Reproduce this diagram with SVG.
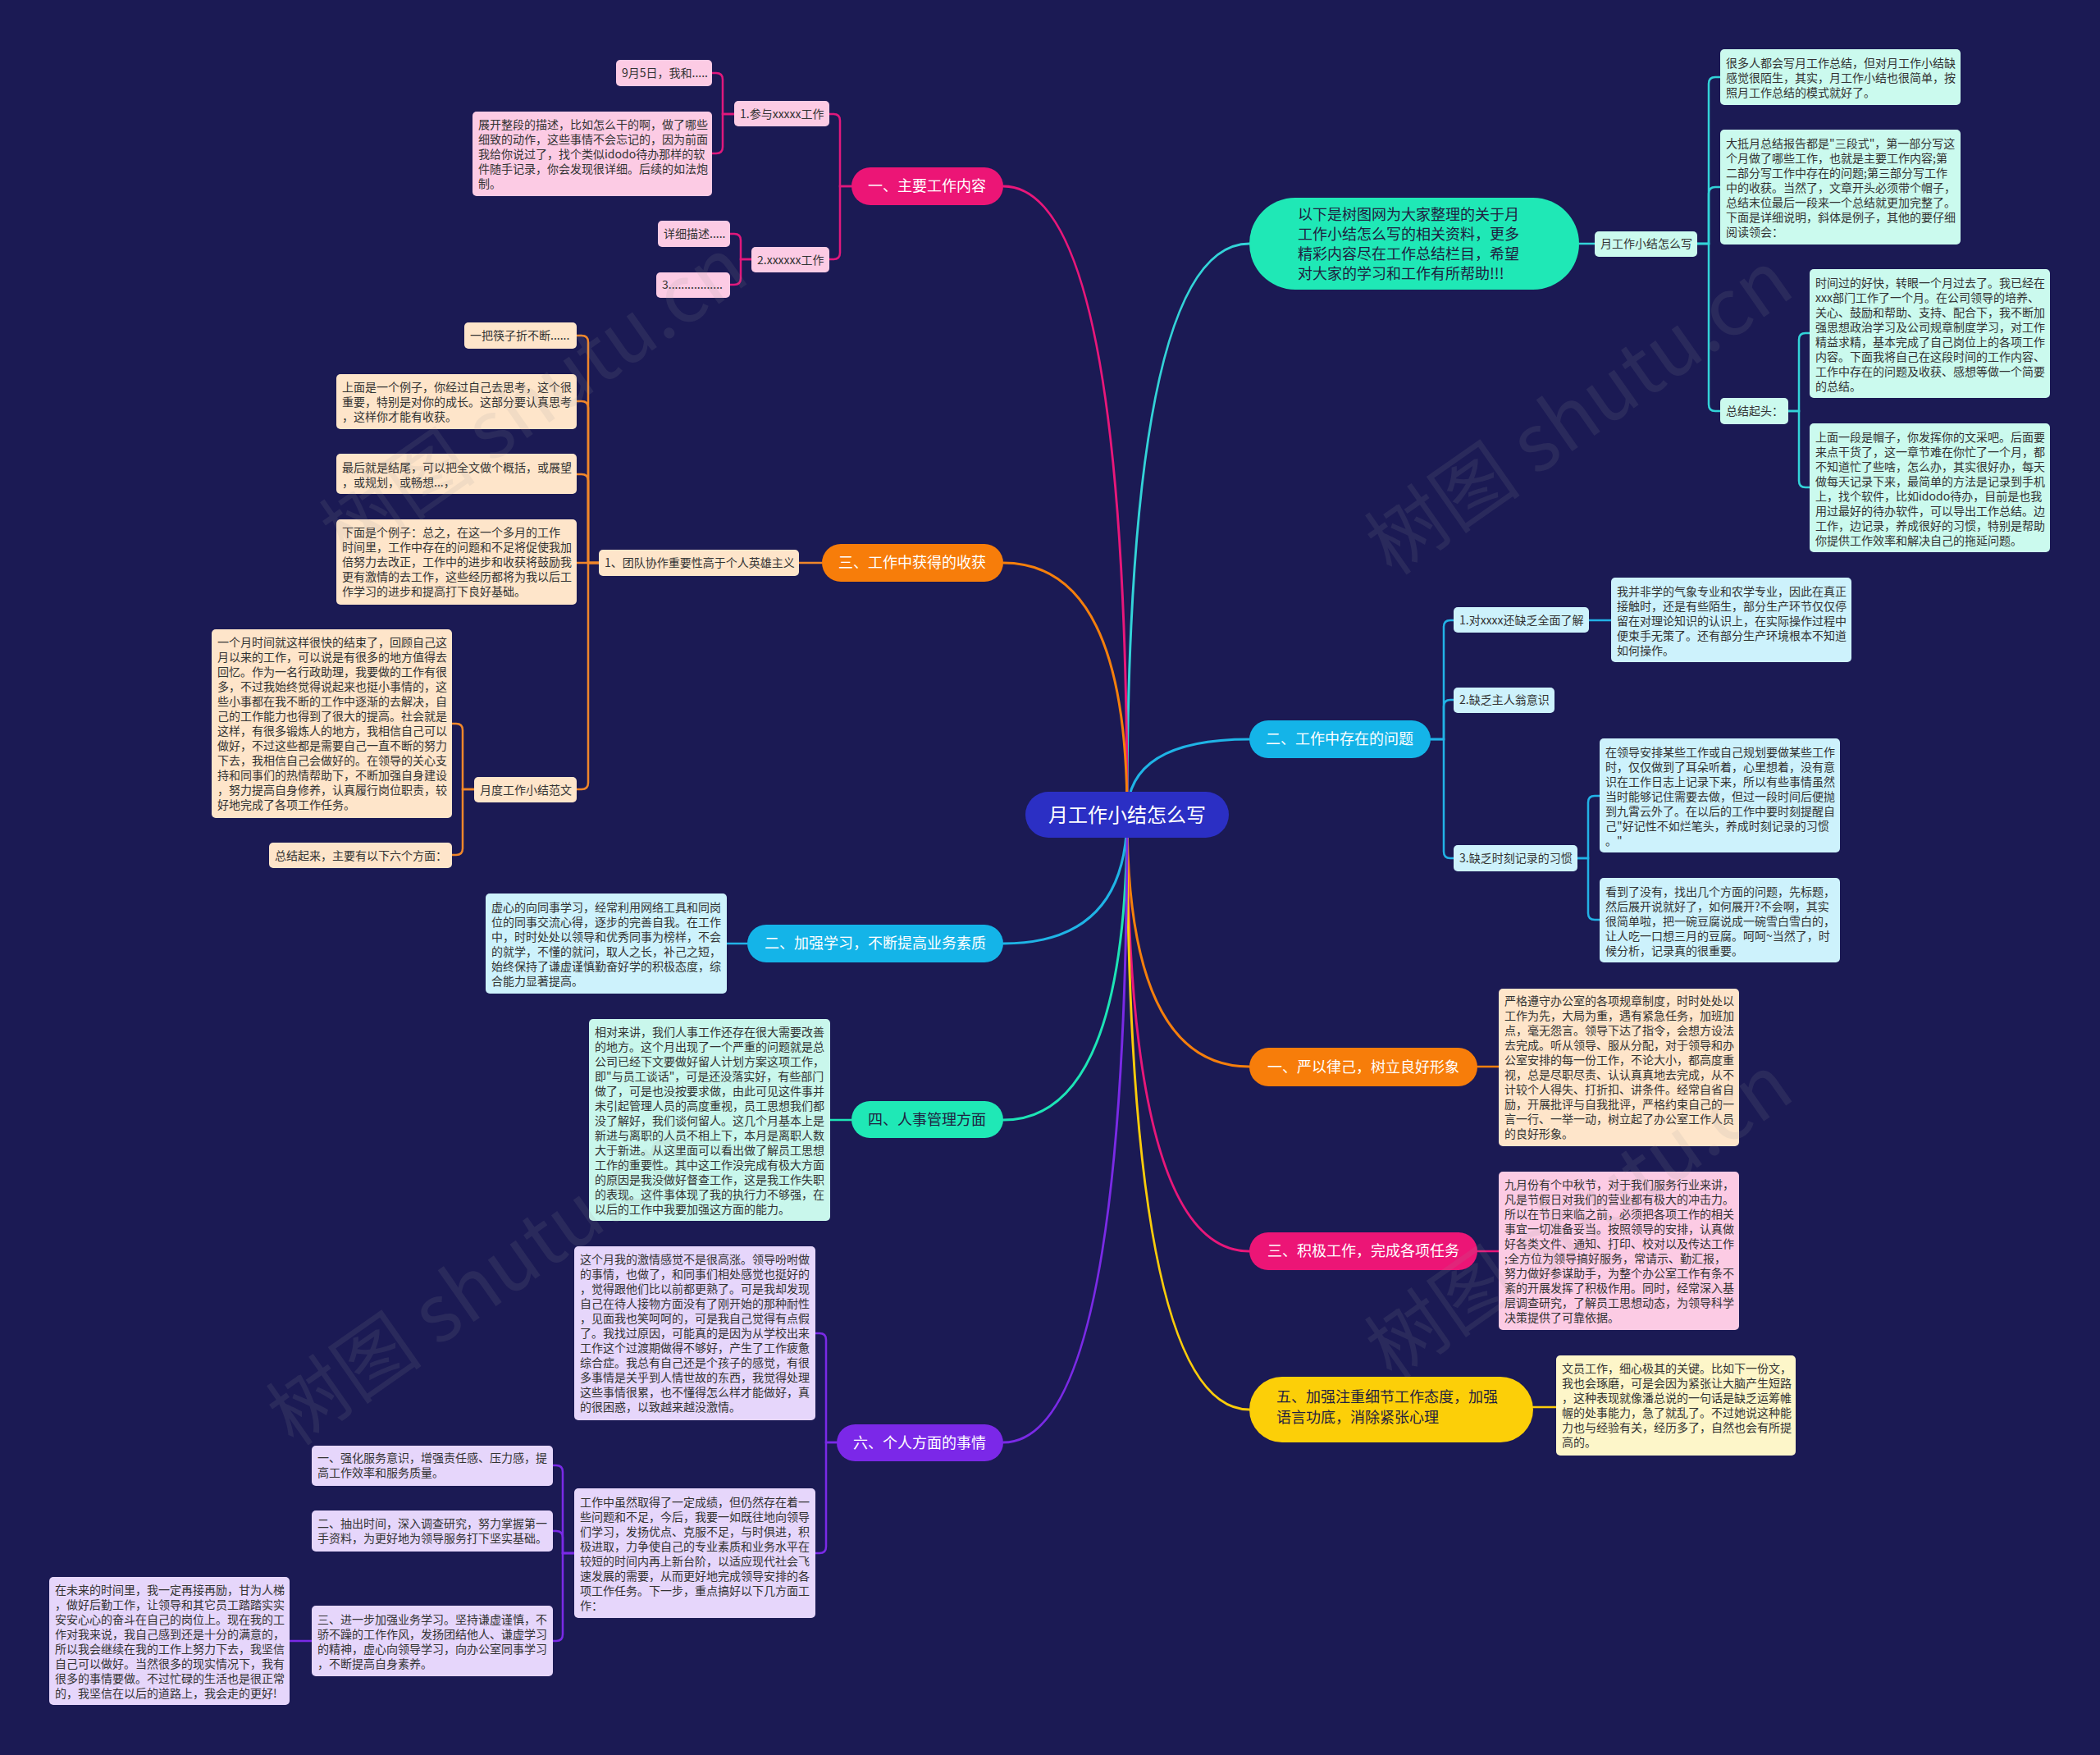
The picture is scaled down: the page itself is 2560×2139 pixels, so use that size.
<svg xmlns="http://www.w3.org/2000/svg" width="2560" height="2139" viewBox="0 0 2560 2139">
<style>
text{font-family:"Noto Sans CJK SC","Noto Sans",sans-serif}
.t{font-size:14px;fill:#333}
.m{font-size:18px}
.w{fill:#fff}
.d{fill:#1f2040}
.c path{fill:none;stroke-linecap:round}
.pk{fill:#fccbe4}.pc{fill:#fee5ca}.mt{fill:#cbfaee}.lb{fill:#cdf2fc}.lv{fill:#e6d6fb}.ly{fill:#fdf6c9}.mt2{fill:#c9f7ec}
.wm{font-size:96px;fill:#9a9a9a;opacity:0.12}
</style>
<rect width="2560" height="2139" fill="#1b1a54"/>
<g id="connectors" class="c">
<g stroke-width="3">
<path d="M1374 993 Q1374 297 1523 297" stroke="#33d3d8"/>
<path d="M1374 993 Q1374 901 1523 901" stroke="#1fb4e6"/>
<path d="M1374 993 Q1374 1300 1523 1300" stroke="#f57f0c"/>
<path d="M1374 993 Q1374 1525 1523 1525" stroke="#e8177a"/>
<path d="M1374 993 Q1374 1718 1523 1718" stroke="#fbcc0a"/>
<path d="M1374 993 Q1374 227 1223 227" stroke="#e8177a"/>
<path d="M1374 993 Q1374 686 1223 686" stroke="#f57f0c"/>
<path d="M1374 993 Q1374 1150 1223 1150" stroke="#1fb4e6"/>
<path d="M1374 993 Q1374 1365 1223 1365" stroke="#1de4b6"/>
<path d="M1374 993 Q1374 1758 1223 1758" stroke="#7a2ae6"/>
</g>
<g stroke-width="2.5" stroke="#33d3d8">
<path d="M1925 297 H1944"/>
<path d="M2069 297 H2083 V102 Q2083 94 2091 94 H2097"/>
<path d="M2069 297 H2083 V236 Q2083 228 2091 228 H2097"/>
<path d="M2069 297 H2083 V493 Q2083 501 2091 501 H2097"/>
<path d="M2180 501 H2193 V414 Q2193 406 2201 406 H2206"/>
<path d="M2180 501 H2193 V586 Q2193 594 2201 594 H2206"/>
</g>
<g stroke-width="2.5" stroke="#22b2e6">
<path d="M1744 901 H1760 V764 Q1760 756 1768 756 H1772"/>
<path d="M1744 901 H1760 V861 Q1760 853 1768 853 H1772"/>
<path d="M1744 901 H1760 V1038 Q1760 1046 1768 1046 H1772"/>
<path d="M1937 756 H1964"/>
<path d="M1923 1046 H1936 V978 Q1936 970 1944 970 H1950"/>
<path d="M1923 1046 H1936 V1113 Q1936 1121 1944 1121 H1950"/>
<path d="M911 1150 H886"/>
</g>
<g stroke-width="2.5">
<path d="M1801 1300 H1827" stroke="#f57f0c"/>
<path d="M1801 1525 H1827" stroke="#e8177a"/>
<path d="M1869 1715 H1897" stroke="#fbcc0a"/>
<path d="M1038 1365 H1012" stroke="#1de4b6"/>
</g>
<g stroke-width="2.5" stroke="#e0187c">
<path d="M1038 227 H1024 V147 Q1024 139 1016 139 H1011"/>
<path d="M1038 227 H1024 V308 Q1024 316 1016 316 H1011"/>
<path d="M895 139 H881 V97 Q881 89 873 89 H868"/>
<path d="M895 139 H881 V179 Q881 187 873 187 H868"/>
<path d="M916 316 H903 V293 Q903 285 895 285 H890"/>
<path d="M916 316 H903 V339 Q903 347 895 347 H890"/>
</g>
<g stroke-width="2.5" stroke="#f0862a">
<path d="M1002 686 H974"/>
<path d="M730 686 H717 V417 Q717 409 709 409 H703"/>
<path d="M730 686 H717 V497 Q717 489 709 489 H703"/>
<path d="M730 686 H717 V586 Q717 578 709 578 H703"/>
<path d="M730 686 H703"/>
<path d="M730 686 H717 V954 Q717 962 709 962 H703"/>
<path d="M578 962 H564 V890 Q564 882 556 882 H551"/>
<path d="M578 962 H564 V1034 Q564 1042 556 1042 H551"/>
</g>
<g stroke-width="2.5" stroke="#7a2ae6">
<path d="M1020 1758 H1007 V1633 Q1007 1625 999 1625 H994"/>
<path d="M1020 1758 H1007 V1885 Q1007 1893 999 1893 H994"/>
<path d="M700 1893 H686 V1794 Q686 1786 678 1786 H674"/>
<path d="M700 1893 H686 V1874 Q686 1866 678 1866 H674"/>
<path d="M700 1893 H686 V1992 Q686 2000 678 2000 H674"/>
<path d="M380 2000 H353"/>
</g>
</g>

<g id="center">
<rect x="1250" y="965" width="248" height="56" rx="28" fill="#2b2fc4"/>
<text x="1374" y="1002" font-size="24" class="w" text-anchor="middle">月工作小结怎么写</text>
</g>

<g id="intro">
<rect x="1523" y="241" width="402" height="112" rx="56" fill="#1fe8b6"/>
<text class="m d"><tspan x="1582" y="268">以下是树图网为大家整理的关于月</tspan><tspan x="1582" y="292">工作小结怎么写的相关资料，更多</tspan><tspan x="1582" y="316">精彩内容尽在工作总结栏目，希望</tspan><tspan x="1582" y="340">对大家的学习和工作有所帮助!!!</tspan></text>
</g>
<g id="howto">
<rect class="mt" x="1944" y="282" width="125" height="31" rx="5"/>
<text class="t" x="1951" y="302">月工作小结怎么写</text>
</g>
<g id="howto-a">
<rect class="mt" x="2097" y="60" width="293" height="68" rx="5"/>
<text class="t"><tspan x="2104" y="82">很多人都会写月工作总结，但对月工作小结缺</tspan><tspan x="2104" y="100">感觉很陌生，其实，月工作小结也很简单，按</tspan><tspan x="2104" y="118">照月工作总结的模式就好了。</tspan></text>
</g>
<g id="howto-b">
<rect class="mt" x="2097" y="158" width="293" height="140" rx="5"/>
<text class="t"><tspan x="2104" y="180">大抵月总结报告都是"三段式"，第一部分写这</tspan><tspan x="2104" y="198">个月做了哪些工作，也就是主要工作内容;第</tspan><tspan x="2104" y="216">二部分写工作中存在的问题;第三部分写工作</tspan><tspan x="2104" y="234">中的收获。当然了，文章开头必须带个帽子，</tspan><tspan x="2104" y="252">总结末位最后一段来一个总结就更加完整了。</tspan><tspan x="2104" y="270">下面是详细说明，斜体是例子，其他的要仔细</tspan><tspan x="2104" y="288">阅读领会：</tspan></text>
</g>
<g id="howto-start">
<rect class="mt" x="2097" y="485" width="83" height="32" rx="5"/>
<text class="t" x="2104" y="506">总结起头：</text>
</g>
<g id="howto-c">
<rect class="mt" x="2206" y="328" width="293" height="157" rx="5"/>
<text class="t"><tspan x="2213" y="350">时间过的好快，转眼一个月过去了。我已经在</tspan><tspan x="2213" y="368">xxx部门工作了一个月。在公司领导的培养、</tspan><tspan x="2213" y="386">关心、鼓励和帮助、支持、配合下，我不断加</tspan><tspan x="2213" y="404">强思想政治学习及公司规章制度学习，对工作</tspan><tspan x="2213" y="422">精益求精，基本完成了自己岗位上的各项工作</tspan><tspan x="2213" y="440">内容。下面我将自己在这段时间的工作内容、</tspan><tspan x="2213" y="458">工作中存在的问题及收获、感想等做一个简要</tspan><tspan x="2213" y="476">的总结。</tspan></text>
</g>
<g id="howto-d">
<rect class="mt" x="2206" y="516" width="293" height="157" rx="5"/>
<text class="t"><tspan x="2213" y="538">上面一段是帽子，你发挥你的文采吧。后面要</tspan><tspan x="2213" y="556">来点干货了，这一章节难在你忙了一个月，都</tspan><tspan x="2213" y="574">不知道忙了些啥，怎么办，其实很好办，每天</tspan><tspan x="2213" y="592">做每天记录下来，最简单的方法是记录到手机</tspan><tspan x="2213" y="610">上，找个软件，比如idodo待办，目前是也我</tspan><tspan x="2213" y="628">用过最好的待办软件，可以导出工作总结。边</tspan><tspan x="2213" y="646">工作，边记录，养成很好的习惯，特别是帮助</tspan><tspan x="2213" y="664">你提供工作效率和解决自己的拖延问题。</tspan></text>
</g>

<g id="problems">
<rect x="1523" y="878" width="221" height="46" rx="23" fill="#14b4e8"/>
<text class="m w" x="1633" y="907" text-anchor="middle">二、工作中存在的问题</text>
</g>
<g id="p1">
<rect class="lb" x="1772" y="740" width="165" height="31" rx="5"/>
<text class="t" x="1779" y="761">1.对xxxx还缺乏全面了解</text>
</g>
<g id="p1-a">
<rect class="lb" x="1964" y="704" width="293" height="103" rx="5"/>
<text class="t"><tspan x="1971" y="726">我并非学的气象专业和农学专业，因此在真正</tspan><tspan x="1971" y="744">接触时，还是有些陌生，部分生产环节仅仅停</tspan><tspan x="1971" y="762">留在对理论知识的认识上，在实际操作过程中</tspan><tspan x="1971" y="780">便束手无策了。还有部分生产环境根本不知道</tspan><tspan x="1971" y="798">如何操作。</tspan></text>
</g>
<g id="p2">
<rect class="lb" x="1772" y="838" width="123" height="31" rx="5"/>
<text class="t" x="1779" y="858">2.缺乏主人翁意识</text>
</g>
<g id="p3">
<rect class="lb" x="1772" y="1030" width="151" height="32" rx="5"/>
<text class="t" x="1779" y="1051">3.缺乏时刻记录的习惯</text>
</g>
<g id="p3-a">
<rect class="lb" x="1950" y="900" width="293" height="139" rx="5"/>
<text class="t"><tspan x="1957" y="922">在领导安排某些工作或自己规划要做某些工作</tspan><tspan x="1957" y="940">时，仅仅做到了耳朵听着，心里想着，没有意</tspan><tspan x="1957" y="958">识在工作日志上记录下来，所以有些事情虽然</tspan><tspan x="1957" y="976">当时能够记住需要去做，但过一段时间后便抛</tspan><tspan x="1957" y="994">到九霄云外了。在以后的工作中要时刻提醒自</tspan><tspan x="1957" y="1012">己"好记性不如烂笔头，养成时刻记录的习惯</tspan><tspan x="1957" y="1030">。"</tspan></text>
</g>
<g id="p3-b">
<rect class="lb" x="1950" y="1070" width="293" height="103" rx="5"/>
<text class="t"><tspan x="1957" y="1092">看到了没有，找出几个方面的问题，先标题，</tspan><tspan x="1957" y="1110">然后展开说就好了，如何展开?不会啊，其实</tspan><tspan x="1957" y="1128">很简单啦，把一碗豆腐说成一碗雪白雪白的，</tspan><tspan x="1957" y="1146">让人吃一口想三月的豆腐。呵呵~当然了，时</tspan><tspan x="1957" y="1164">候分析，记录真的很重要。</tspan></text>
</g>

<g id="discipline">
<rect x="1523" y="1277" width="278" height="47" rx="23.5" fill="#f77d0a"/>
<text class="m w" x="1662" y="1307" text-anchor="middle">一、严以律己，树立良好形象</text>
</g>
<g id="discipline-a">
<rect class="pc" x="1827" y="1205" width="293" height="192" rx="5"/>
<text class="t"><tspan x="1834" y="1225">严格遵守办公室的各项规章制度，时时处处以</tspan><tspan x="1834" y="1243">工作为先，大局为重，遇有紧急任务，加班加</tspan><tspan x="1834" y="1261">点，毫无怨言。领导下达了指令，会想方设法</tspan><tspan x="1834" y="1279">去完成。听从领导、服从分配，对于领导和办</tspan><tspan x="1834" y="1297">公室安排的每一份工作，不论大小，都高度重</tspan><tspan x="1834" y="1315">视，总是尽职尽责、认认真真地去完成，从不</tspan><tspan x="1834" y="1333">计较个人得失、打折扣、讲条件。经常自省自</tspan><tspan x="1834" y="1351">励，开展批评与自我批评，严格约束自己的一</tspan><tspan x="1834" y="1369">言一行、一举一动，树立起了办公室工作人员</tspan><tspan x="1834" y="1387">的良好形象。</tspan></text>
</g>

<g id="active">
<rect x="1523" y="1502" width="278" height="46" rx="23" fill="#ec1576"/>
<text class="m w" x="1662" y="1531" text-anchor="middle">三、积极工作，完成各项任务</text>
</g>
<g id="active-a">
<rect class="pk" x="1827" y="1428" width="293" height="193" rx="5"/>
<text class="t"><tspan x="1834" y="1449">九月份有个中秋节，对于我们服务行业来讲，</tspan><tspan x="1834" y="1467">凡是节假日对我们的营业都有极大的冲击力。</tspan><tspan x="1834" y="1485">所以在节日来临之前，必须把各项工作的相关</tspan><tspan x="1834" y="1503">事宜一切准备妥当。按照领导的安排，认真做</tspan><tspan x="1834" y="1521">好各类文件、通知、打印、校对以及传达工作</tspan><tspan x="1834" y="1539">;全方位为领导搞好服务，常请示、勤汇报，</tspan><tspan x="1834" y="1557">努力做好参谋助手，为整个办公室工作有条不</tspan><tspan x="1834" y="1575">紊的开展发挥了积极作用。同时，经常深入基</tspan><tspan x="1834" y="1593">层调查研究，了解员工思想动态，为领导科学</tspan><tspan x="1834" y="1611">决策提供了可靠依据。</tspan></text>
</g>

<g id="detail">
<rect x="1523" y="1678" width="346" height="80" rx="40" fill="#fccf08"/>
<text class="m d"><tspan x="1556" y="1709">五、加强注重细节工作态度，加强</tspan><tspan x="1556" y="1734">语言功底，消除紧张心理</tspan></text>
</g>
<g id="detail-a">
<rect class="ly" x="1897" y="1652" width="292" height="122" rx="5"/>
<text class="t"><tspan x="1904" y="1673">文员工作，细心极其的关键。比如下一份文，</tspan><tspan x="1904" y="1691">我也会琢磨，可是会因为紧张让大脑产生短路</tspan><tspan x="1904" y="1709">，这种表现就像潘总说的一句话是缺乏运筹帷</tspan><tspan x="1904" y="1727">幄的处事能力，急了就乱了。不过她说这种能</tspan><tspan x="1904" y="1745">力也与经验有关，经历多了，自然也会有所提</tspan><tspan x="1904" y="1763">高的。</tspan></text>
</g>

<g id="main-work">
<rect x="1038" y="204" width="185" height="46" rx="23" fill="#ec1576"/>
<text class="m w" x="1130" y="233" text-anchor="middle">一、主要工作内容</text>
</g>
<g id="mw1">
<rect class="pk" x="895" y="123" width="116" height="31" rx="5"/>
<text class="t" x="902" y="144">1.参与xxxxx工作</text>
</g>
<g id="mw1-a">
<rect class="pk" x="751" y="73" width="117" height="32" rx="5"/>
<text class="t" x="758" y="94">9月5日，我和.....</text>
</g>
<g id="mw1-b">
<rect class="pk" x="576" y="136" width="292" height="103" rx="5"/>
<text class="t"><tspan x="583" y="157">展开整段的描述，比如怎么干的啊，做了哪些</tspan><tspan x="583" y="175">细致的动作，这些事情不会忘记的，因为前面</tspan><tspan x="583" y="193">我给你说过了，找个类似idodo待办那样的软</tspan><tspan x="583" y="211">件随手记录，你会发现很详细。后续的如法炮</tspan><tspan x="583" y="229">制。</tspan></text>
</g>
<g id="mw2">
<rect class="pk" x="916" y="301" width="95" height="31" rx="5"/>
<text class="t" x="923" y="322">2.xxxxxx工作</text>
</g>
<g id="mw2-a">
<rect class="pk" x="802" y="269" width="88" height="32" rx="5"/>
<text class="t" x="809" y="290">详细描述.....</text>
</g>
<g id="mw2-b">
<rect class="pk" x="800" y="332" width="90" height="31" rx="5"/>
<text class="t" x="807" y="352">3.................</text>
</g>

<g id="gain">
<rect x="1002" y="663" width="221" height="46" rx="23" fill="#f77d0a"/>
<text class="m w" x="1112" y="692" text-anchor="middle">三、工作中获得的收获</text>
</g>
<g id="team">
<rect class="pc" x="730" y="670" width="244" height="32" rx="5"/>
<text class="t" x="737" y="691">1、团队协作重要性高于个人英雄主义</text>
</g>
<g id="team-a">
<rect class="pc" x="566" y="393" width="137" height="32" rx="5"/>
<text class="t" x="573" y="414">一把筷子折不断......</text>
</g>
<g id="team-b">
<rect class="pc" x="410" y="456" width="293" height="67" rx="5"/>
<text class="t"><tspan x="417" y="477">上面是一个例子，你经过自己去思考，这个很</tspan><tspan x="417" y="495">重要，特别是对你的成长。这部分要认真思考</tspan><tspan x="417" y="513">，这样你才能有收获。</tspan></text>
</g>
<g id="team-c">
<rect class="pc" x="410" y="553" width="293" height="49" rx="5"/>
<text class="t"><tspan x="417" y="575">最后就是结尾，可以把全文做个概括，或展望</tspan><tspan x="417" y="593">，或规划，或畅想...，</tspan></text>
</g>
<g id="team-d">
<rect class="pc" x="410" y="633" width="293" height="104" rx="5"/>
<text class="t"><tspan x="417" y="654">下面是个例子：总之，在这一个多月的工作</tspan><tspan x="417" y="672">时间里，工作中存在的问题和不足将促使我加</tspan><tspan x="417" y="690">倍努力去改正，工作中的进步和收获将鼓励我</tspan><tspan x="417" y="708">更有激情的去工作，这些经历都将为我以后工</tspan><tspan x="417" y="726">作学习的进步和提高打下良好基础。</tspan></text>
</g>
<g id="sample">
<rect class="pc" x="578" y="947" width="125" height="31" rx="5"/>
<text class="t" x="585" y="968">月度工作小结范文</text>
</g>
<g id="sample-a">
<rect class="pc" x="258" y="767" width="293" height="230" rx="5"/>
<text class="t"><tspan x="265" y="788">一个月时间就这样很快的结束了，回顾自己这</tspan><tspan x="265" y="806">月以来的工作，可以说是有很多的地方值得去</tspan><tspan x="265" y="824">回忆。作为一名行政助理，我要做的工作有很</tspan><tspan x="265" y="842">多，不过我始终觉得说起来也挺小事情的，这</tspan><tspan x="265" y="860">些小事都在我不断的工作中逐渐的去解决，自</tspan><tspan x="265" y="878">己的工作能力也得到了很大的提高。社会就是</tspan><tspan x="265" y="896">这样，有很多锻炼人的地方，我相信自己可以</tspan><tspan x="265" y="914">做好，不过这些都是需要自己一直不断的努力</tspan><tspan x="265" y="932">下去，我相信自己会做好的。在领导的关心支</tspan><tspan x="265" y="950">持和同事们的热情帮助下，不断加强自身建设</tspan><tspan x="265" y="968">，努力提高自身修养，认真履行岗位职责，较</tspan><tspan x="265" y="986">好地完成了各项工作任务。</tspan></text>
</g>
<g id="sample-b">
<rect class="pc" x="328" y="1027" width="223" height="31" rx="5"/>
<text class="t" x="335" y="1048">总结起来，主要有以下六个方面：</text>
</g>

<g id="study">
<rect x="911" y="1127" width="312" height="46" rx="23" fill="#14b4e8"/>
<text class="m w" x="1067" y="1156" text-anchor="middle">二、加强学习，不断提高业务素质</text>
</g>
<g id="study-a">
<rect class="lb" x="592" y="1089" width="294" height="122" rx="5"/>
<text class="t"><tspan x="599" y="1111">虚心的向同事学习，经常利用网络工具和同岗</tspan><tspan x="599" y="1129">位的同事交流心得，逐步的完善自我。在工作</tspan><tspan x="599" y="1147">中，时时处处以领导和优秀同事为榜样，不会</tspan><tspan x="599" y="1165">的就学，不懂的就问，取人之长，补己之短，</tspan><tspan x="599" y="1183">始终保持了谦虚谨慎勤奋好学的积极态度，综</tspan><tspan x="599" y="1201">合能力显著提高。</tspan></text>
</g>

<g id="hr">
<rect x="1038" y="1342" width="185" height="45" rx="22.5" fill="#1fe8b6"/>
<text class="m d" x="1130" y="1371" text-anchor="middle">四、人事管理方面</text>
</g>
<g id="hr-a">
<rect class="mt2" x="718" y="1242" width="294" height="246" rx="5"/>
<text class="t"><tspan x="725" y="1263">相对来讲，我们人事工作还存在很大需要改善</tspan><tspan x="725" y="1281">的地方。这个月出现了一个严重的问题就是总</tspan><tspan x="725" y="1299">公司已经下文要做好留人计划方案这项工作，</tspan><tspan x="725" y="1317">即"与员工谈话"，可是还没落实好，有些部门</tspan><tspan x="725" y="1335">做了，可是也没按要求做，由此可见这件事并</tspan><tspan x="725" y="1353">未引起管理人员的高度重视，员工思想我们都</tspan><tspan x="725" y="1371">没了解好，我们谈何留人。这几个月基本上是</tspan><tspan x="725" y="1389">新进与离职的人员不相上下，本月是离职人数</tspan><tspan x="725" y="1407">大于新进。从这里面可以看出做了解员工思想</tspan><tspan x="725" y="1425">工作的重要性。其中这工作没完成有极大方面</tspan><tspan x="725" y="1443">的原因是我没做好督查工作，这是我工作失职</tspan><tspan x="725" y="1461">的表现。这件事体现了我的执行力不够强，在</tspan><tspan x="725" y="1479">以后的工作中我要加强这方面的能力。</tspan></text>
</g>

<g id="personal">
<rect x="1020" y="1736" width="203" height="45" rx="22.5" fill="#7b28e8"/>
<text class="m w" x="1121" y="1765" text-anchor="middle">六、个人方面的事情</text>
</g>
<g id="personal-a">
<rect class="lv" x="700" y="1519" width="294" height="212" rx="5"/>
<text class="t"><tspan x="707" y="1540">这个月我的激情感觉不是很高涨。领导吩咐做</tspan><tspan x="707" y="1558">的事情，也做了，和同事们相处感觉也挺好的</tspan><tspan x="707" y="1576">，觉得跟他们比以前都更熟了。可是我却发现</tspan><tspan x="707" y="1594">自己在待人接物方面没有了刚开始的那种耐性</tspan><tspan x="707" y="1612">，见面我也笑呵呵的，可是我自己觉得有点假</tspan><tspan x="707" y="1630">了。我找过原因，可能真的是因为从学校出来</tspan><tspan x="707" y="1648">工作这个过渡期做得不够好，产生了工作疲惫</tspan><tspan x="707" y="1666">综合症。我总有自己还是个孩子的感觉，有很</tspan><tspan x="707" y="1684">多事情是关乎到人情世故的东西，我觉得处理</tspan><tspan x="707" y="1702">这些事情很累，也不懂得怎么样才能做好，真</tspan><tspan x="707" y="1720">的很困惑，以致越来越没激情。</tspan></text>
</g>
<g id="personal-b">
<rect class="lv" x="700" y="1814" width="294" height="158" rx="5"/>
<text class="t"><tspan x="707" y="1836">工作中虽然取得了一定成绩，但仍然存在着一</tspan><tspan x="707" y="1854">些问题和不足，今后，我要一如既往地向领导</tspan><tspan x="707" y="1872">们学习，发扬优点、克服不足，与时俱进，积</tspan><tspan x="707" y="1890">极进取，力争使自己的专业素质和业务水平在</tspan><tspan x="707" y="1908">较短的时间内再上新台阶，以适应现代社会飞</tspan><tspan x="707" y="1926">速发展的需要，从而更好地完成领导安排的各</tspan><tspan x="707" y="1944">项工作任务。下一步，重点搞好以下几方面工</tspan><tspan x="707" y="1962">作：</tspan></text>
</g>
<g id="plan-1">
<rect class="lv" x="380" y="1762" width="294" height="49" rx="5"/>
<text class="t"><tspan x="387" y="1782">一、强化服务意识，增强责任感、压力感，提</tspan><tspan x="387" y="1800">高工作效率和服务质量。</tspan></text>
</g>
<g id="plan-2">
<rect class="lv" x="380" y="1841" width="294" height="50" rx="5"/>
<text class="t"><tspan x="387" y="1862">二、抽出时间，深入调查研究，努力掌握第一</tspan><tspan x="387" y="1880">手资料，为更好地为领导服务打下坚实基础。</tspan></text>
</g>
<g id="plan-3">
<rect class="lv" x="380" y="1957" width="294" height="86" rx="5"/>
<text class="t"><tspan x="387" y="1979">三、进一步加强业务学习。坚持谦虚谨慎，不</tspan><tspan x="387" y="1997">骄不躁的工作作风，发扬团结他人、谦虚学习</tspan><tspan x="387" y="2015">的精神，虚心向领导学习，向办公室同事学习</tspan><tspan x="387" y="2033">，不断提高自身素养。</tspan></text>
</g>
<g id="plan-3-a">
<rect class="lv" x="60" y="1922" width="293" height="156" rx="5"/>
<text class="t"><tspan x="67" y="1943">在未来的时间里，我一定再接再励，甘为人梯</tspan><tspan x="67" y="1961">，做好后勤工作，让领导和其它员工踏踏实实</tspan><tspan x="67" y="1979">安安心心的奋斗在自己的岗位上。现在我的工</tspan><tspan x="67" y="1997">作对我来说，我自己感到还是十分的满意的，</tspan><tspan x="67" y="2015">所以我会继续在我的工作上努力下去，我坚信</tspan><tspan x="67" y="2033">自己可以做好。当然很多的现实情况下，我有</tspan><tspan x="67" y="2051">很多的事情要做。不过忙碌的生活也是很正常</tspan><tspan x="67" y="2069">的，我坚信在以后的道路上，我会走的更好!</tspan></text>
</g>

<g id="watermark">
<text class="wm" x="653" y="520" text-anchor="middle" transform="rotate(-35 653 490)">树图 shutu.cn</text>
<text class="wm" x="1927" y="536" text-anchor="middle" transform="rotate(-35 1927 506)">树图 shutu.cn</text>
<text class="wm" x="588" y="1597" text-anchor="middle" transform="rotate(-35 588 1567)">树图 shutu.cn</text>
<text class="wm" x="1927" y="1516" text-anchor="middle" transform="rotate(-35 1927 1486)">树图 shutu.cn</text>
</g>
</svg>
